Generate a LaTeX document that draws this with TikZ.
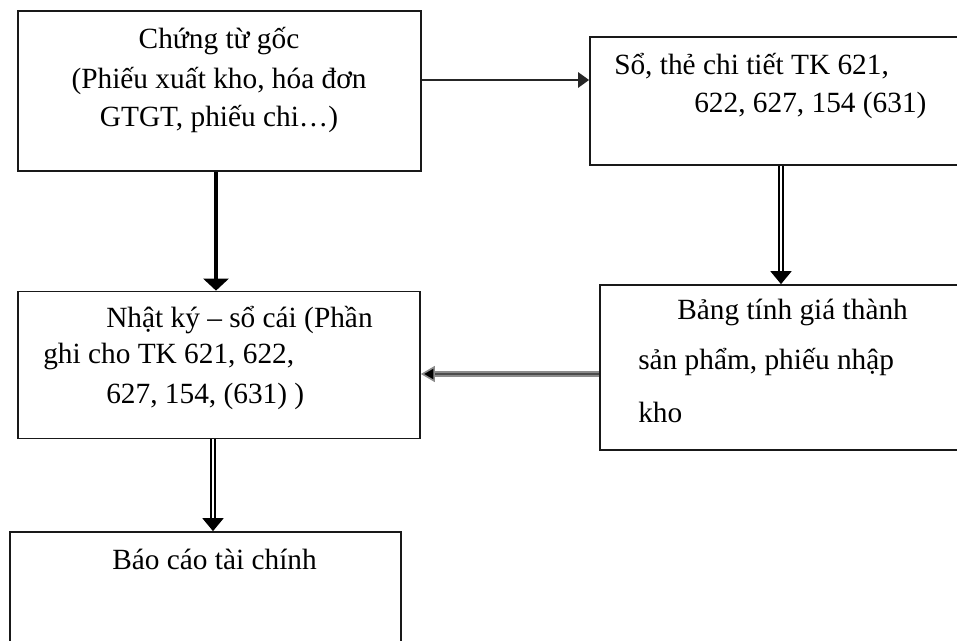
\documentclass[tikz,border=0pt]{standalone}
\usepackage{fontspec}
\setmainfont{Liberation Serif}
\usetikzlibrary{arrows.meta}
\begin{document}
\def\px{0.75pt}
\begin{tikzpicture}[x=0.75pt,y=-0.75pt,
  box/.style={draw=black!90,line width=1.7*\px,rectangle,inner sep=0pt},
  lbl/.style={anchor=base west,inner sep=0pt,font=\fontsize{22}{26}\selectfont},
  clbl/.style={anchor=base,inner sep=0pt,font=\fontsize{22}{26}\selectfont},
  thinarrow/.style={draw=black!85,line width=2.6*\px,-{Triangle[length=11*\px,width=15*\px]}},
  thickarrow/.style={draw=black,line width=4.5*\px,-{Triangle[length=12*\px,width=25*\px]}},
  dblarrow/.style={draw=black,double=white,double distance=2*\px,line width=2*\px,
    -{Triangle[length=13*\px,width=21*\px]}},
  grayarrow/.style={draw=black!45,double=black!70,double distance=2.5*\px,line width=1.6*\px,
    -{Triangle[length=14*\px,width=16*\px,fill=black]}}]
\useasboundingbox (0,0) rectangle (957,641);
\clip (0,0) rectangle (957,641);

% boxes
\node[box,minimum width=403*\px,minimum height=160*\px] (src) at (219.5,91) {};
\node[box,minimum width=380*\px,minimum height=128*\px] (detail) at (780,101) {};
\node[box,minimum width=370*\px,minimum height=165*\px] (cost) at (785,367.5) {};
\node[box,minimum width=402*\px,minimum height=147*\px] (journal) at (219,365) {};
\node[box,minimum width=391*\px,minimum height=160*\px] (report) at (205.5,612) {};

% texts
\node[clbl] (t1) at (219,49) {Chứng từ gốc};
\node[clbl] (t2) at (219,89) {(Phiếu xuất kho, hóa đơn};
\node[clbl] (t3) at (219,127) {GTGT, phiếu chi…)};

\node[lbl] (t4) at (614,75) {Sổ, thẻ chi tiết TK 621,};
\node[lbl] (t5) at (694,113) {622, 627, 154 (631)};

\node[lbl] (t6) at (677,320) {Bảng tính giá thành};
\node[lbl] (t7) at (638,370) {sản phẩm, phiếu nhập};
\node[lbl] (t8) at (638,423) {kho};

\node[lbl] (t9) at (106,328) {Nhật ký – sổ cái (Phần};
\node[lbl] (t10) at (43,364) {ghi cho TK 621, 622,};
\node[lbl] (t11) at (106,404) {627, 154, (631) )};

\node[lbl] (t12) at (112,569) {Báo cáo tài chính};

% connectors
\draw[thinarrow] (src.east |- 0,80) -- (detail.west |- 0,80);
\draw[thickarrow] (src.south -| 216,0) -- (journal.north -| 216,0);
\draw[dblarrow] (detail.south -| 781,0) -- (cost.north -| 781,0);
\draw[grayarrow] (cost.west |- 0,374) -- (journal.east |- 0,374);
\draw[dblarrow] (journal.south -| 213,0) -- (report.north -| 213,0);
\end{tikzpicture}
\end{document}
